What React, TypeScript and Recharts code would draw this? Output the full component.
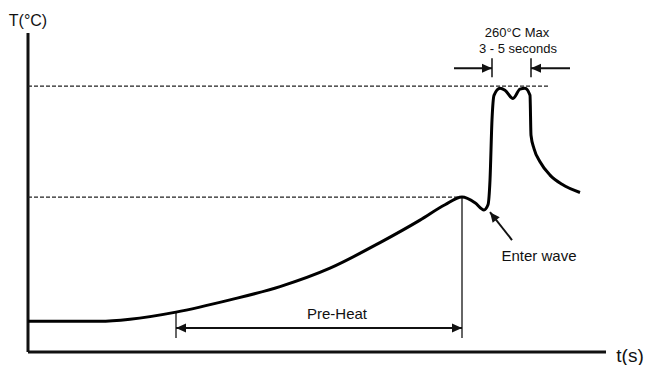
import { LineChart, Line, XAxis, YAxis, ReferenceLine, ReferenceDot } from 'recharts'

// time (s) and temperature (°C) of the wave soldering profile
const TIME = [0, 36, 51, 74, 101, 126, 151, 176, 196, 208.5, 217, 223.5, 228, 230, 231, 232, 233, 236, 238.5, 242.5, 246, 248.5, 251, 251.5, 253, 256, 261, 267, 276]
const TEMP = [30, 30, 32, 39, 51, 64, 82, 107, 129, 144, 151.5, 146, 139, 144, 168, 227, 251, 258, 256, 248, 257, 258, 251, 212, 199, 186, 173, 164, 156]

const T_MAX = 312
const T_END = 289
const PEAK_TEMP = 260
const PREHEAT_TEMP = 151.5
const PREHEAT_START = 74
const PREHEAT_END = 217
const WAVE_IN = 232
const WAVE_OUT = 251.5

const FONT = '"Liberation Sans", Arial, sans-serif'
const INK = '#111'

const data = TIME.map((t, i) => ({ t, T: TEMP[i] }))

// line with arrow heads, drawn at the coordinates the scales give
const arrow = (heads: 'end' | 'both', sw = 2) => (p: any) => {
  const { x1, y1, x2, y2 } = p
  const head = (tx: number, ty: number, fx: number, fy: number) => {
    const a = Math.atan2(ty - fy, tx - fx)
    const len = 10
    const w = 4.5
    const bx = tx - len * Math.cos(a)
    const by = ty - len * Math.sin(a)
    const pts = [
      [tx, ty],
      [bx - w * Math.sin(a), by + w * Math.cos(a)],
      [bx + w * Math.sin(a), by - w * Math.cos(a)],
    ]
    return <polygon points={pts.map((q) => q.join(',')).join(' ')} fill={INK} />
  }
  return (
    <g>
      <line x1={x1} y1={y1} x2={x2} y2={y2} stroke={INK} strokeWidth={sw} />
      {head(x2, y2, x1, y1)}
      {heads === 'both' && head(x1, y1, x2, y2)}
    </g>
  )
}

const textLabel = (value: string, size: number) => ({
  value,
  position: 'center' as const,
  fontSize: size,
  fill: INK,
  fontFamily: FONT,
})

export default function App() {
  return (
    <div style={{ position: 'absolute', left: 0, top: 0, background: '#fff', fontFamily: FONT }}>
      <LineChart width={646} height={365} data={data} margin={{ top: 33, right: 40, bottom: 13, left: 28 }}>
        <XAxis type="number" dataKey="t" domain={[0, T_END]} hide />
        <YAxis type="number" domain={[0, T_MAX]} hide />

        {/* axes */}
        <ReferenceLine segment={[{ x: 0, y: 0 }, { x: 0, y: T_MAX }]} stroke={INK} strokeWidth={3} ifOverflow="visible" />
        <ReferenceLine segment={[{ x: 0, y: 0 }, { x: T_END, y: 0 }]} stroke={INK} strokeWidth={3} ifOverflow="visible" />

        {/* dashed level lines */}
        <ReferenceLine segment={[{ x: 0, y: PEAK_TEMP }, { x: 261, y: PEAK_TEMP }]} stroke="#222" strokeDasharray="4 2" strokeWidth={1.2} />
        <ReferenceLine segment={[{ x: 0, y: PREHEAT_TEMP }, { x: PREHEAT_END, y: PREHEAT_TEMP }]} stroke="#222" strokeDasharray="4 2" strokeWidth={1.2} />

        {/* pre-heat span */}
        <ReferenceLine segment={[{ x: PREHEAT_START, y: 39 }, { x: PREHEAT_START, y: 13.7 }]} stroke="#333" strokeWidth={1.5} />
        <ReferenceLine segment={[{ x: PREHEAT_END, y: PREHEAT_TEMP }, { x: PREHEAT_END, y: 13.7 }]} stroke="#333" strokeWidth={1.5} />
        <ReferenceLine segment={[{ x: PREHEAT_START, y: 23.5 }, { x: PREHEAT_END, y: 23.5 }]} shape={arrow('both')} />

        {/* wave dwell markers */}
        <ReferenceLine segment={[{ x: WAVE_IN, y: 287.4 }, { x: WAVE_IN, y: 268.8 }]} stroke={INK} strokeWidth={1.5} ifOverflow="visible" />
        <ReferenceLine segment={[{ x: WAVE_OUT, y: 287.4 }, { x: WAVE_OUT, y: 268.8 }]} stroke={INK} strokeWidth={1.5} ifOverflow="visible" />
        <ReferenceLine segment={[{ x: 213, y: 277.6 }, { x: WAVE_IN, y: 277.6 }]} shape={arrow('end')} ifOverflow="visible" />
        <ReferenceLine segment={[{ x: 271, y: 277.6 }, { x: WAVE_OUT, y: 277.6 }]} shape={arrow('end')} ifOverflow="visible" />

        {/* enter wave pointer */}
        <ReferenceLine segment={[{ x: 242, y: 109.5 }, { x: 231, y: 136.8 }]} shape={arrow('end')} />

        <Line
          type="monotone"
          dataKey="T"
          stroke="#000"
          strokeWidth={3}
          dot={false}
          activeDot={false}
          isAnimationActive={false}
        />

        <ReferenceDot x={0} y={324.5} r={0} fill="none" stroke="none" ifOverflow="visible" label={textLabel('T(°C)', 16)} />
        <ReferenceDot x={301} y={-3} r={0} fill="none" stroke="none" ifOverflow="visible" label={textLabel('t(s)', 19)} />
        <ReferenceDot x={154.5} y={37.1} r={0} fill="none" stroke="none" label={textLabel('Pre-Heat', 15)} />
        <ReferenceDot x={255.5} y={93.8} r={0} fill="none" stroke="none" label={textLabel('Enter wave', 15)} />
        <ReferenceDot x={244.5} y={312.8} r={0} fill="none" stroke="none" ifOverflow="visible" label={textLabel('260°C Max', 13)} />
        <ReferenceDot x={245} y={297} r={0} fill="none" stroke="none" ifOverflow="visible" label={textLabel('3 - 5 seconds', 13)} />
      </LineChart>
    </div>
  )
}
